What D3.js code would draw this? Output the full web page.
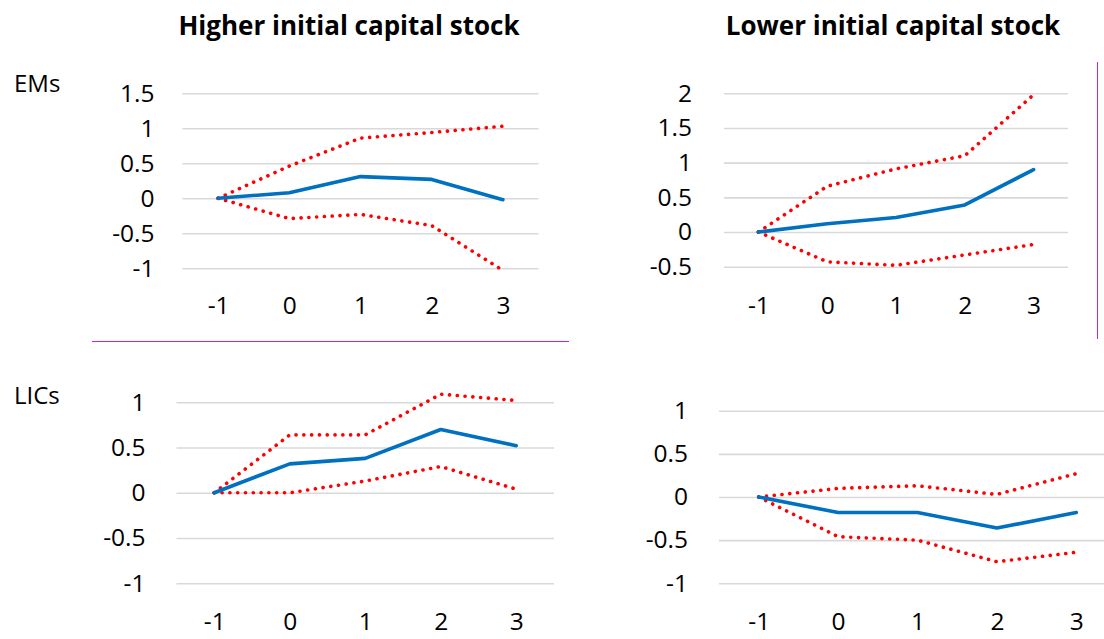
<!DOCTYPE html>
<html>
<head>
<meta charset="utf-8">
<script src="https://cdn.jsdelivr.net/npm/d3@7"></script>
<style>
  html, body { margin: 0; padding: 0; background: #fff; }
  svg { display: block; font-family: "Open Sans", "Noto Sans", sans-serif; }
</style>
</head>
<body>
<svg id="chart" width="1104" height="639"></svg>
<script>
// ---- data ----
const horizons = ["-1", "0", "1", "2", "3"];
const columnTitles = ["Higher initial capital stock", "Lower initial capital stock"];
const rowLabels = ["EMs", "LICs"];

const emsHighMean  = [0, 0.08, 0.31, 0.27, -0.02];
const emsHighUpper = [0, 0.46, 0.86, 0.94, 1.03];
const emsHighLower = [0, -0.29, -0.23, -0.39, -1.03];

const emsLowMean  = [0, 0.12, 0.21, 0.39, 0.90];
const emsLowUpper = [0, 0.66, 0.91, 1.10, 1.98];
const emsLowLower = [0, -0.43, -0.48, -0.33, -0.18];

const licsHighMean  = [0, 0.32, 0.38, 0.70, 0.52];
const licsHighUpper = [0, 0.64, 0.64, 1.09, 1.02];
const licsHighLower = [0, 0.00, 0.13, 0.29, 0.04];

const licsLowMean  = [0, -0.18, -0.18, -0.36, -0.18];
const licsLowUpper = [0, 0.10, 0.13, 0.03, 0.27];
const licsLowLower = [0, -0.46, -0.50, -0.75, -0.64];

const emsHighTicks = [-1, -0.5, 0, 0.5, 1, 1.5];
const emsLowTicks  = [-0.5, 0, 0.5, 1, 1.5, 2];
const licsHighTicks = [-1, -0.5, 0, 0.5, 1];
const licsLowTicks  = [-1, -0.5, 0, 0.5, 1];

// ---- layout ----
const panels = [
  { mean: emsHighMean, upper: emsHighUpper, lower: emsHighLower, ticks: emsHighTicks,
    x0: 182.5, x1: 538.5, yDom: [-1, 1.5], yRng: [268.3, 93.3], pad: 28, xLabY: 305 },
  { mean: emsLowMean, upper: emsLowUpper, lower: emsLowLower, ticks: emsLowTicks,
    x0: 724, x1: 1068, yDom: [-0.5, 2], yRng: [266.7, 93.3], pad: 32, xLabY: 305 },
  { mean: licsHighMean, upper: licsHighUpper, lower: licsHighLower, ticks: licsHighTicks,
    x0: 176.5, x1: 554, yDom: [-1, 1], yRng: [583.3, 402.3], pad: 31, xLabY: 621 },
  { mean: licsLowMean, upper: licsLowUpper, lower: licsLowLower, ticks: licsLowTicks,
    x0: 719, x1: 1116, yDom: [-1, 1], yRng: [583.3, 410.7], pad: 31, xLabY: 621 }
];

const svg = d3.select("#chart");
const fmt = d => String(d);
const FF = "'Open Sans', 'Noto Sans', sans-serif";

panels.forEach(p => {
  const x = d3.scalePoint().domain(horizons).range([p.x0, p.x1]).padding(0.5);
  const y = d3.scaleLinear().domain(p.yDom).range(p.yRng);
  const g = svg.append("g");

  const ya = g.append("g")
    .attr("transform", `translate(${p.x0},0)`)
    .call(d3.axisLeft(y).tickValues(p.ticks).tickFormat(fmt)
      .tickSize(-(Math.min(p.x1, 1104) - p.x0)).tickPadding(p.pad));
  ya.select(".domain").remove();
  ya.selectAll(".tick line").attr("stroke", "#d9d9d9").attr("stroke-width", 1.6);
  ya.selectAll(".tick text").attr("font-size", 24.5).attr("fill", "#000")
    .attr("font-family", FF);

  const xa = g.append("g")
    .attr("transform", `translate(0,${p.xLabY})`)
    .call(d3.axisBottom(x).tickSize(0).tickPadding(0));
  xa.select(".domain").remove();
  xa.selectAll(".tick text").attr("font-size", 24.5).attr("fill", "#000")
    .attr("dy", "0.35em").attr("font-family", FF);

  const line = d3.line().x((d, i) => x(horizons[i])).y(d => y(d));

  [p.upper, p.lower].forEach(s => {
    g.append("path").datum(s).attr("d", line)
      .attr("fill", "none").attr("stroke", "#ff0000").attr("stroke-width", 3.6)
      .attr("stroke-linecap", "round").attr("stroke-dasharray", "0.1 7.7");
  });
  g.append("path").datum(p.mean).attr("d", line)
    .attr("fill", "none").attr("stroke", "#0070c0").attr("stroke-width", 3.6)
    .attr("stroke-linecap", "round").attr("stroke-linejoin", "round");
});

// titles
svg.selectAll("text.coltitle").data(columnTitles).join("text")
  .attr("class", "coltitle")
  .attr("x", (d, i) => [349, 893][i]).attr("y", 35)
  .attr("text-anchor", "middle").attr("font-size", 26).attr("font-weight", "bold")
  .attr("font-family", FF).attr("fill", "#000").text(d => d);

// row labels
svg.selectAll("text.rowlab").data(rowLabels).join("text")
  .attr("class", "rowlab")
  .attr("x", 14).attr("y", (d, i) => [84, 396][i]).attr("dy", "0.35em")
  .attr("font-size", 24).attr("font-family", FF).attr("fill", "#000").text(d => d);

// separators
svg.append("line").attr("x1", 92).attr("x2", 569).attr("y1", 341.5).attr("y2", 341.5)
  .attr("stroke", "#d21fd2").attr("stroke-width", 1);
svg.append("line").attr("x1", 1097.5).attr("x2", 1097.5).attr("y1", 62).attr("y2", 339)
  .attr("stroke", "#d21fd2").attr("stroke-width", 1);
</script>
</body>
</html>
